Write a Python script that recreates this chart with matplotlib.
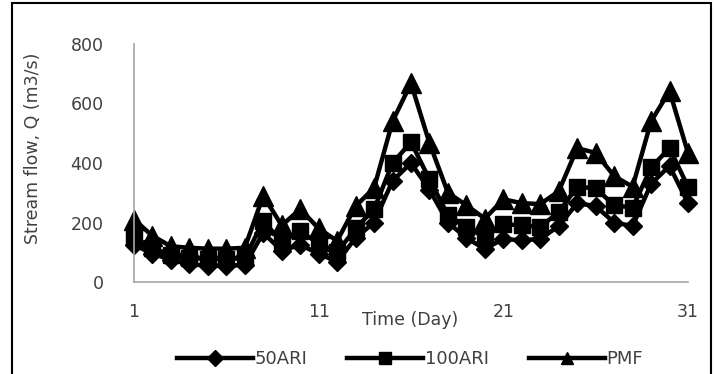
import matplotlib
matplotlib.use("Agg")
import matplotlib.pyplot as plt
from matplotlib.patches import Rectangle

days = list(range(1, 32))
ari50 = [125, 95, 75, 60, 55, 55, 57, 165, 105, 125, 95, 68, 148, 200, 340, 400, 310, 200, 148, 111, 145, 140, 145, 188, 265, 255, 200, 188, 330, 390, 265]
ari100 = [150, 115, 90, 80, 78, 78, 80, 205, 135, 170, 130, 100, 180, 245, 400, 470, 345, 225, 185, 150, 195, 190, 185, 235, 320, 315, 258, 250, 385, 450, 320]
pmf = [210, 155, 120, 115, 112, 112, 115, 290, 190, 245, 180, 138, 255, 316, 540, 668, 467, 300, 258, 213, 278, 265, 262, 305, 450, 434, 356, 320, 540, 642, 434]
xticks = [1, 11, 21, 31]
yticks = [0, 200, 400, 600, 800]
series_names = ["50ARI", "100ARI", "PMF"]

W, H = 715, 374
fig = plt.figure(figsize=(W / 100, H / 100), dpi=100)
fig.patch.set_facecolor("white")

# outer frame
fig.patches.append(Rectangle((12 / W, -0.05), (711 - 12) / W, 1.05 - 3 / H,
                             transform=fig.transFigure, fill=False,
                             edgecolor="black", linewidth=1.5))

ax = fig.add_axes([134 / W, 1 - 282 / H, (688 - 134) / W, (282 - 44) / H])
txt = "#404040"
ax.plot(days, ari50, color="black", lw=3.2, marker="D", ms=9, label=series_names[0], clip_on=False)
ax.plot(days, ari100, color="black", lw=3.2, marker="s", ms=12, label=series_names[1], clip_on=False)
ax.plot(days, pmf, color="black", lw=3.2, marker="^", ms=14, label=series_names[2], clip_on=False)

ax.set_xlim(1, 31)
ax.set_ylim(0, 800)
ax.set_xticks(xticks)
ax.set_xticklabels([str(t) for t in xticks])
ax.set_yticks(yticks)
for s in ["top", "right"]:
    ax.spines[s].set_visible(False)
for s in ["left", "bottom"]:
    ax.spines[s].set_color("#a6a6a6")
    ax.spines[s].set_linewidth(1.2)
ax.tick_params(axis="both", length=0, labelsize=12.5, colors=txt)
ax.tick_params(axis="x", pad=15)
ax.tick_params(axis="y", pad=22)
for lab in ax.get_xticklabels() + ax.get_yticklabels():
    lab.set_color(txt)

fig.text(410 / W, 1 - 320 / H, "Time (Day)", ha="center", va="center", fontsize=12.5, color=txt)
fig.text(33 / W, 1 - 148 / H, "Stream flow, Q (m3/s)", ha="center", va="center",
         rotation=90, fontsize=12.5, color=txt)

leg = fig.legend(loc="center", bbox_to_anchor=(410 / W, 1 - 359 / H), ncol=3,
                 frameon=False, fontsize=13, handlelength=4.2, columnspacing=2.2,
                 handletextpad=0.1, borderaxespad=0)
for t in leg.get_texts():
    t.set_color(txt)
for h in leg.legend_handles:
    h.set_markersize(8)

fig.savefig("out.png", dpi=100, facecolor="white")
